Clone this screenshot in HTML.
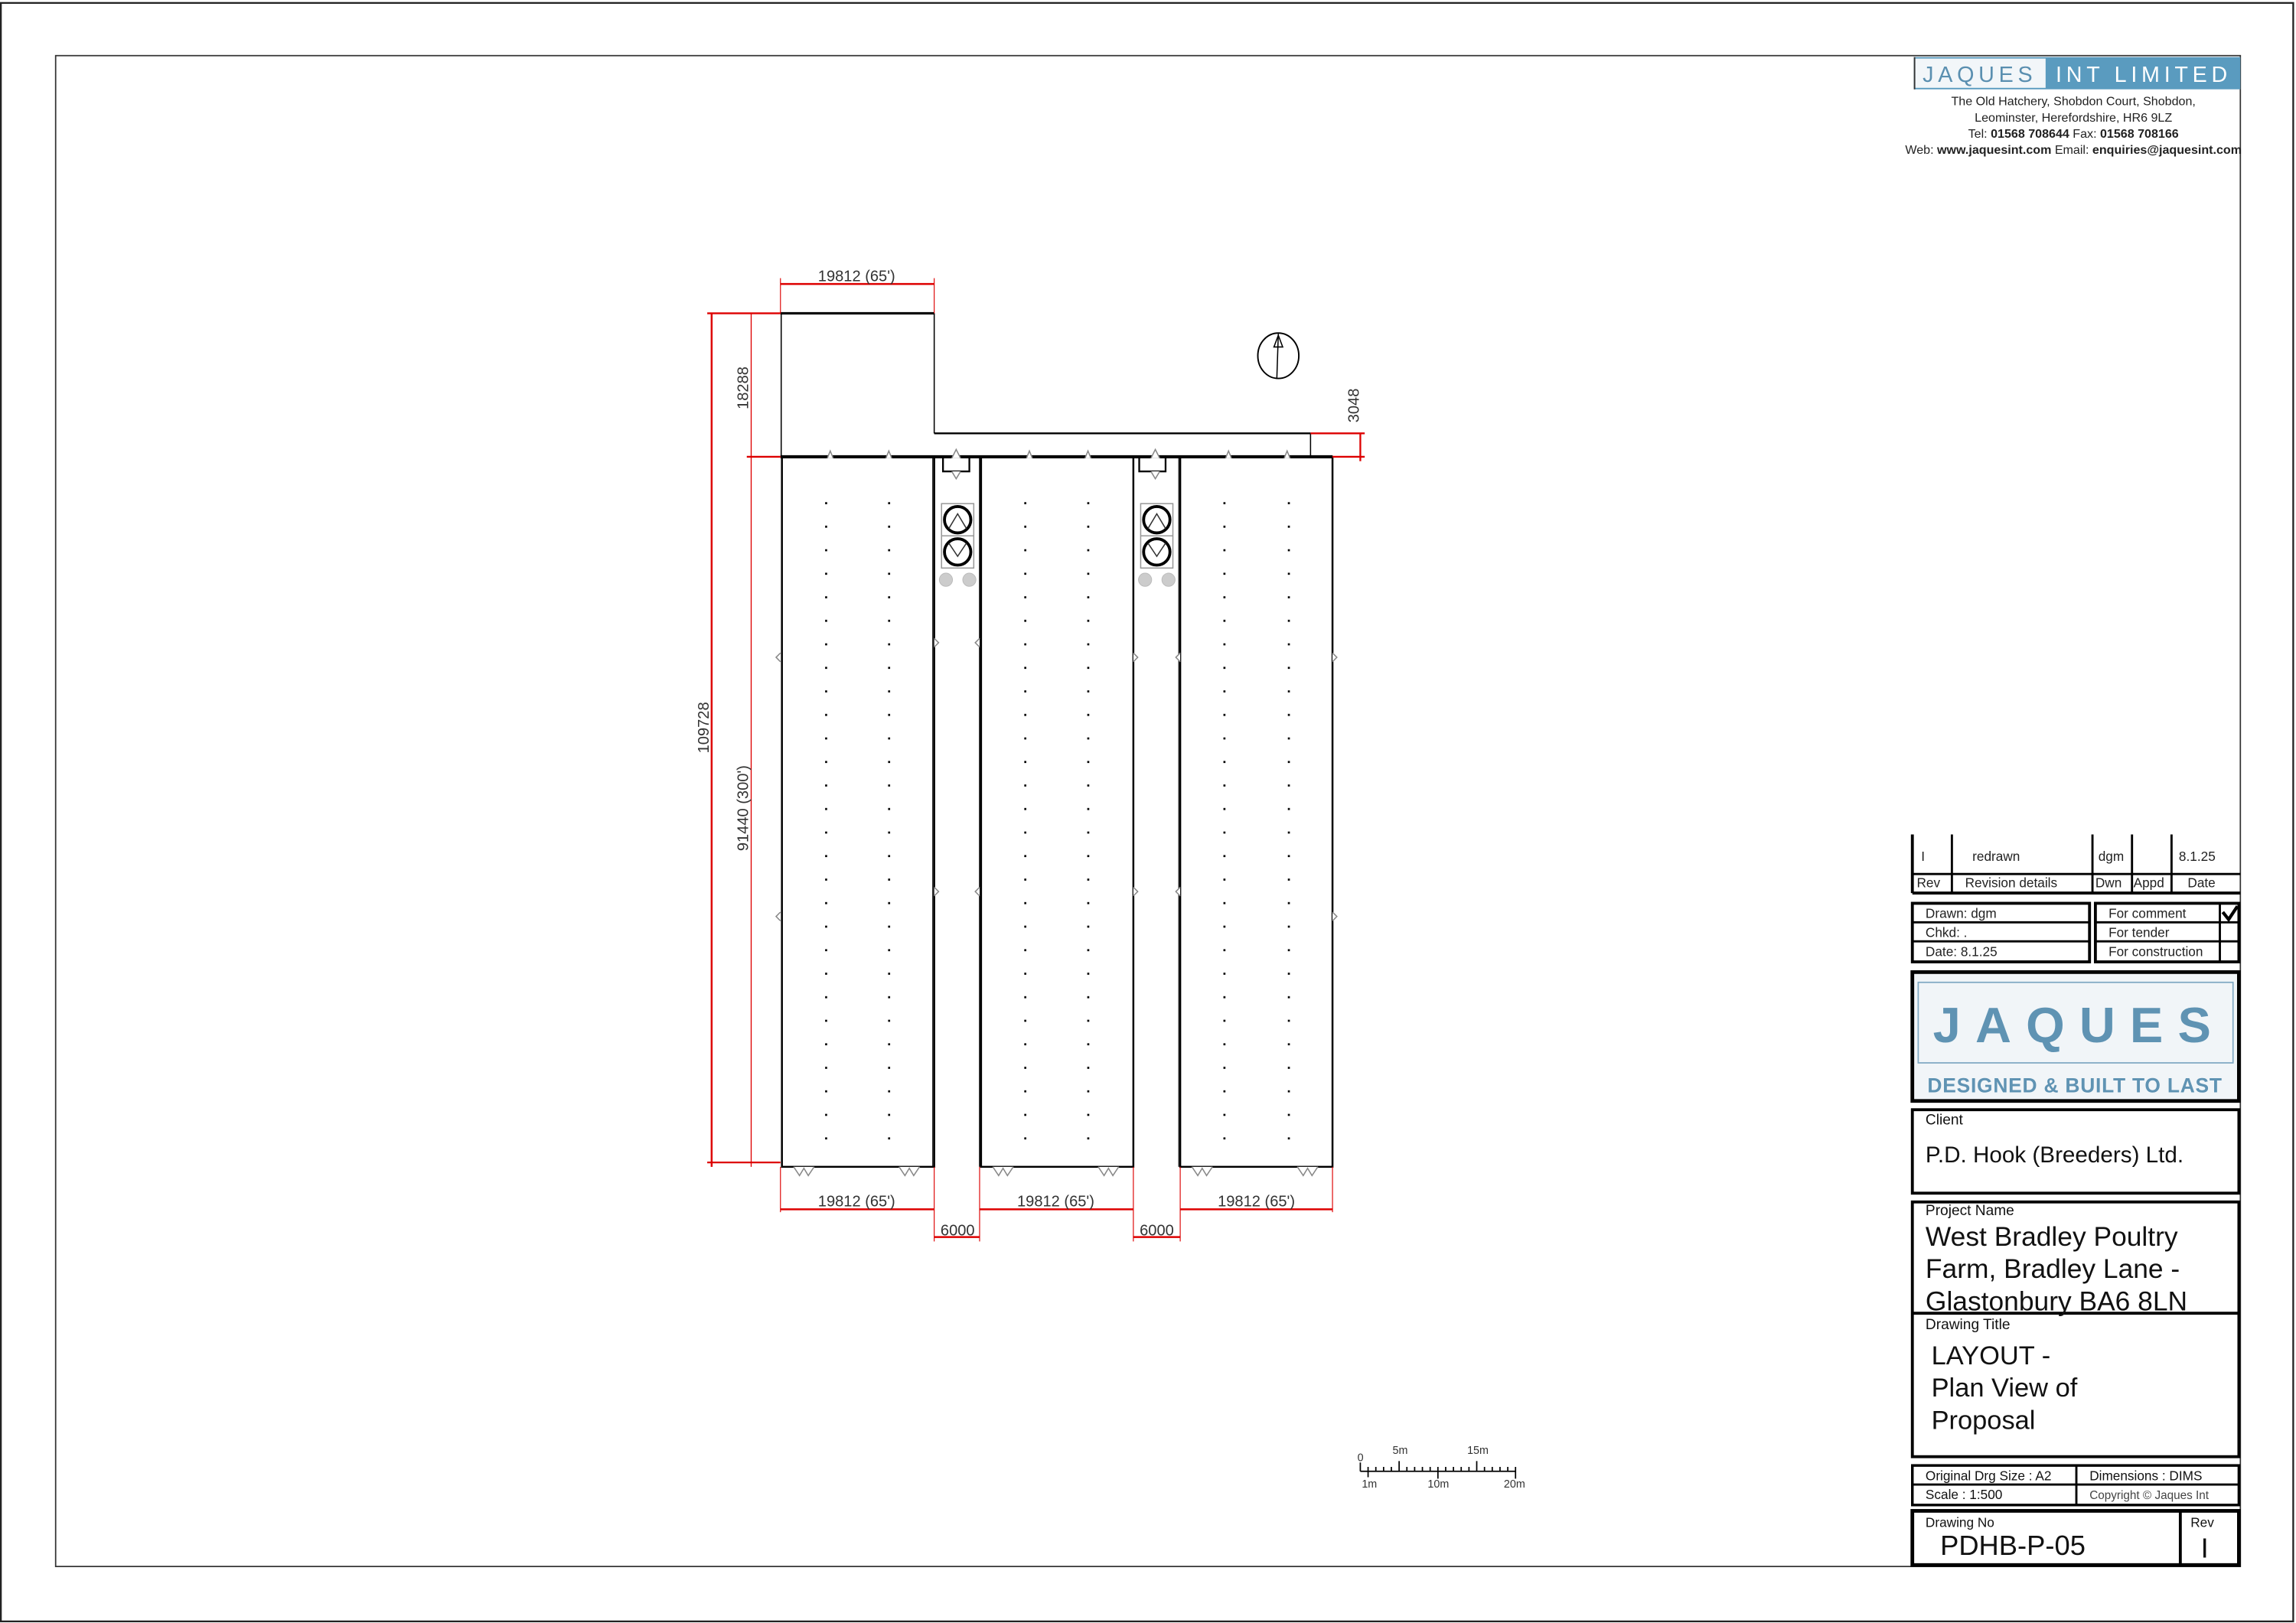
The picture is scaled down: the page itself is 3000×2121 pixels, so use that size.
<!DOCTYPE html>
<html><head><meta charset="utf-8"><style>
html,body{margin:0;padding:0;background:#fff;}
svg{display:block;}
text{font-family:"Liberation Sans",sans-serif;}
</style></head><body>
<svg width="3000" height="2121" viewBox="0 0 1568 1108.6" preserveAspectRatio="none" xmlns="http://www.w3.org/2000/svg">
<defs>
<pattern id="dots" x="0" y="340" width="1568" height="16.07" patternUnits="userSpaceOnUse">
<rect x="563.5" y="3" width="1.4" height="1.4" fill="#000"/>
<rect x="606.5" y="3" width="1.4" height="1.4" fill="#000"/>
<rect x="699.5" y="3" width="1.4" height="1.4" fill="#000"/>
<rect x="742.5" y="3" width="1.4" height="1.4" fill="#000"/>
<rect x="835.5" y="3" width="1.4" height="1.4" fill="#000"/>
<rect x="879.5" y="3" width="1.4" height="1.4" fill="#000"/>
</pattern>
</defs>
<rect x="0.6" y="2" width="1565.5" height="1105.5" fill="none" stroke="#222" stroke-width="1.2"/>
<rect x="38" y="38" width="1492" height="1032" fill="none" stroke="#333" stroke-width="0.9"/>

<rect x="1307" y="39" width="223" height="22" fill="#5a9bbf"/>
<rect x="1308" y="40" width="89" height="20" fill="#f2f6f9"/>
<line x1="1307.5" y1="39" x2="1307.5" y2="61" stroke="#333" stroke-width="1"/>
<text x="1352" y="56" font-size="15" fill="#5a8fb0" text-anchor="middle" letter-spacing="3">JAQUES</text>
<text x="1464" y="56" font-size="15" fill="#fff" text-anchor="middle" letter-spacing="3">INT LIMITED</text>
<g font-size="8.4" fill="#222" text-anchor="middle">
<text x="1416" y="72">The Old Hatchery, Shobdon Court, Shobdon,</text>
<text x="1416" y="83">Leominster, Herefordshire, HR6 9LZ</text>
<text x="1416" y="94">Tel: <tspan font-weight="bold">01568 708644</tspan> Fax: <tspan font-weight="bold">01568 708166</tspan></text>
<text x="1416" y="105">Web: <tspan font-weight="bold">www.jaquesint.com</tspan> Email: <tspan font-weight="bold">enquiries@jaquesint.com</tspan></text>
</g>

<g stroke="#000" fill="none">
<line x1="1306" y1="570" x2="1306" y2="610" stroke-width="2"/>
<line x1="1333" y1="570" x2="1333" y2="610" stroke-width="1.5"/>
<line x1="1429" y1="570" x2="1429" y2="610" stroke-width="1.5"/>
<line x1="1456" y1="570" x2="1456" y2="610" stroke-width="1.5"/>
<line x1="1483" y1="570" x2="1483" y2="610" stroke-width="1.5"/>
<line x1="1306" y1="597" x2="1530" y2="597" stroke-width="1.5"/>
<line x1="1306" y1="610" x2="1530" y2="610" stroke-width="2"/>
<rect x="1306" y="617" width="121" height="40" stroke-width="2"/>
<line x1="1306" y1="630" x2="1427" y2="630" stroke-width="1.5"/>
<line x1="1306" y1="643" x2="1427" y2="643" stroke-width="1.5"/>
<rect x="1431" y="617" width="98" height="40" stroke-width="2"/>
<line x1="1431" y1="630" x2="1529" y2="630" stroke-width="1.5"/>
<line x1="1431" y1="643" x2="1529" y2="643" stroke-width="1.5"/>
<line x1="1516" y1="617" x2="1516" y2="657" stroke-width="1.5"/>
<rect x="1306" y="664" width="223" height="88" stroke-width="2.5" fill="#f1f5f8"/>
<rect x="1310" y="671" width="215" height="55" stroke="#7fa8c2" stroke-width="0.9"/>
<rect x="1306" y="758" width="223" height="57" stroke-width="2"/>
<rect x="1306" y="821" width="223" height="174" stroke-width="2"/>
<line x1="1306" y1="897" x2="1529" y2="897" stroke-width="2"/>
<rect x="1306" y="1001" width="223" height="27" stroke-width="1.8"/>
<line x1="1306" y1="1014" x2="1529" y2="1014" stroke-width="1.5"/>
<line x1="1418" y1="1001" x2="1418" y2="1028" stroke-width="1.5"/>
<rect x="1306" y="1032" width="223" height="37" stroke-width="2.5"/>
<line x1="1489" y1="1032" x2="1489" y2="1069" stroke-width="2"/>
</g>
<path d="M1518 623 l4 5 l6 -9" stroke="#000" stroke-width="2.2" fill="none"/>
<g font-size="9" fill="#222">
<text x="1312" y="588">I</text>
<text x="1347" y="588">redrawn</text>
<text x="1433" y="588">dgm</text>
<text x="1488" y="588">8.1.25</text>
<text x="1309" y="606">Rev</text>
<text x="1342" y="606">Revision details</text>
<text x="1431" y="606">Dwn</text>
<text x="1457" y="606">Appd</text>
<text x="1494" y="606">Date</text>
<text x="1315" y="627">Drawn:  dgm</text>
<text x="1315" y="640">Chkd:    .</text>
<text x="1315" y="653">Date:    8.1.25</text>
<text x="1440" y="627">For comment</text>
<text x="1440" y="640">For tender</text>
<text x="1440" y="653">For construction</text>
</g>
<text x="1420" y="712" font-size="34" fill="#5f93b3" text-anchor="middle" letter-spacing="10" font-weight="bold">JAQUES</text>
<text x="1417" y="746" font-size="13.8" fill="#5f93b3" text-anchor="middle" font-weight="bold" letter-spacing="0.4">DESIGNED &amp; BUILT TO LAST</text>
<g fill="#111">
<text x="1315" y="768" font-size="10">Client</text>
<text x="1315" y="794" font-size="15.5">P.D. Hook (Breeders)  Ltd.</text>
<text x="1315" y="830" font-size="10">Project Name</text>
<text x="1315" y="851" font-size="18.5">West Bradley Poultry</text>
<text x="1315" y="873" font-size="18.5">Farm, Bradley Lane -</text>
<text x="1315" y="895" font-size="18.5">Glastonbury BA6 8LN</text>
<text x="1315" y="908" font-size="10">Drawing Title</text>
<text x="1319" y="932" font-size="18">LAYOUT -</text>
<text x="1319" y="954" font-size="18">Plan View of</text>
<text x="1319" y="976" font-size="18">Proposal</text>
<text x="1315" y="1011" font-size="9">Original Drg Size :   A2</text>
<text x="1427" y="1011" font-size="9">Dimensions :    DIMS</text>
<text x="1315" y="1024" font-size="9">Scale :     1:500</text>
<text x="1427" y="1024" font-size="8" fill="#444">Copyright © Jaques Int</text>
<text x="1315" y="1043" font-size="9">Drawing No</text>
<text x="1325" y="1062" font-size="19">PDHB-P-05</text>
<text x="1496" y="1043" font-size="9">Rev</text>
<text x="1503" y="1064" font-size="19">I</text>
</g>

<g stroke="#000" fill="none">
<line x1="533" y1="214" x2="638" y2="214" stroke-width="1.6"/>
<line x1="533.5" y1="214" x2="533.5" y2="312" stroke-width="0.8"/>
<line x1="638" y1="214" x2="638" y2="296" stroke-width="0.8"/>
<line x1="638" y1="296" x2="895" y2="296" stroke-width="1.3"/>
<line x1="895" y1="296" x2="895" y2="312" stroke-width="0.8"/>
<line x1="533" y1="312" x2="910" y2="312" stroke-width="2.2"/>
<rect x="534" y="312" width="104" height="485" stroke-width="1.3"/>
<rect x="670" y="312" width="104" height="485" stroke-width="1.3"/>
<rect x="806" y="312" width="104" height="485" stroke-width="1.3"/>
<line x1="669" y1="312" x2="669" y2="797" stroke-width="0.8"/>
<line x1="774" y1="312" x2="774" y2="797" stroke-width="0.8"/>
<line x1="637" y1="312" x2="637" y2="797" stroke-width="0.6"/>
<line x1="805" y1="312" x2="805" y2="797" stroke-width="0.6"/>
<path d="M644 312 v10 h18 v-10 M778 312 v10 h18 v-10" stroke-width="1.2"/>
</g>
<g stroke="#888" fill="#fff" stroke-width="0.8">
<path d="M565 313 l2 -5 l2 5 M605 313 l2 -5 l2 5 M701 313 l2 -5 l2 5 M741 313 l2 -5 l2 5 M837 313 l2 -5 l2 5 M877 313 l2 -5 l2 5"/>
<path d="M650 313 l3 -6 l3 6 M786 313 l3 -6 l3 6 M650 322 l3 5 l3 -5 M786 322 l3 5 l3 -5"/>
<path d="M542 797 l4 6 l3 -5 l3 5 l4 -6 M614 797 l4 6 l3 -5 l3 5 l4 -6 M678 797 l4 6 l3 -5 l3 5 l4 -6 M750 797 l4 6 l3 -5 l3 5 l4 -6 M814 797 l4 6 l3 -5 l3 5 l4 -6 M886 797 l4 6 l3 -5 l3 5 l4 -6"/>
<path d="M533 446 l-3 3 l3 3 M533 623 l-3 3 l3 3 M910 446 l3 3 l-3 3 M910 623 l3 3 l-3 3 M638 436 l3 3 l-3 3 M669 436 l-3 3 l3 3 M774 446 l3 3 l-3 3 M806 446 l-3 3 l3 3 M638 606 l3 3 l-3 3 M669 606 l-3 3 l3 3 M774 606 l3 3 l-3 3 M806 606 l-3 3 l3 3"/>
</g>
<rect x="540" y="340" width="365" height="450" fill="url(#dots)"/>

<g>
<rect x="643" y="344" width="22" height="44" fill="none" stroke="#999" stroke-width="0.8"/>
<line x1="643" y1="366" x2="665" y2="366" stroke="#999" stroke-width="0.8"/>
<circle cx="654" cy="355" r="9" fill="none" stroke="#000" stroke-width="2"/>
<circle cx="654" cy="377" r="9" fill="none" stroke="#000" stroke-width="2"/>
<path d="M648 361 l6 -10 l6 10 M648 371 l6 9 l6 -9" stroke="#333" stroke-width="0.8" fill="none"/>
<circle cx="646" cy="396" r="4.5" fill="#ccc" stroke="#bbb" stroke-width="0.5"/>
<circle cx="662" cy="396" r="4.5" fill="#ccc" stroke="#bbb" stroke-width="0.5"/>
<rect x="779" y="344" width="22" height="44" fill="none" stroke="#999" stroke-width="0.8"/>
<line x1="779" y1="366" x2="801" y2="366" stroke="#999" stroke-width="0.8"/>
<circle cx="790" cy="355" r="9" fill="none" stroke="#000" stroke-width="2"/>
<circle cx="790" cy="377" r="9" fill="none" stroke="#000" stroke-width="2"/>
<path d="M784 361 l6 -10 l6 10 M784 371 l6 9 l6 -9" stroke="#333" stroke-width="0.8" fill="none"/>
<circle cx="782" cy="396" r="4.5" fill="#ccc" stroke="#bbb" stroke-width="0.5"/>
<circle cx="798" cy="396" r="4.5" fill="#ccc" stroke="#bbb" stroke-width="0.5"/>
</g>

<ellipse cx="873" cy="243" rx="14" ry="15.5" fill="none" stroke="#000" stroke-width="1"/>
<line x1="873" y1="228" x2="872" y2="258" stroke="#000" stroke-width="0.8"/>
<path d="M873 229 l-3 8 h6 z" fill="none" stroke="#000" stroke-width="0.8"/>

<g stroke="#d00" fill="none">
<line x1="533" y1="194" x2="638" y2="194" stroke-width="1.3"/>
<line x1="533" y1="190" x2="533" y2="214" stroke-width="0.6"/>
<line x1="638" y1="190" x2="638" y2="214" stroke-width="0.6"/>
<line x1="486" y1="214" x2="486" y2="797" stroke-width="1.3"/>
<line x1="513" y1="214" x2="513" y2="797" stroke-width="0.7"/>
<line x1="483" y1="214" x2="533" y2="214" stroke-width="1.2"/>
<line x1="510" y1="312" x2="533" y2="312" stroke-width="1.2"/>
<line x1="483" y1="794" x2="533" y2="794" stroke-width="1.2"/>
<line x1="929" y1="296" x2="929" y2="315" stroke-width="1.2"/>
<line x1="895" y1="296" x2="932" y2="296" stroke-width="1.2"/>
<line x1="910" y1="312" x2="932" y2="312" stroke-width="1.2"/>
<line x1="533" y1="826" x2="638" y2="826" stroke-width="1.3"/>
<line x1="669" y1="826" x2="774" y2="826" stroke-width="1.3"/>
<line x1="806" y1="826" x2="910" y2="826" stroke-width="1.3"/>
<line x1="638" y1="845" x2="669" y2="845" stroke-width="1.3"/>
<line x1="774" y1="845" x2="806" y2="845" stroke-width="1.3"/>
<path d="M533 797 V828 M638 797 V848 M669 797 V848 M774 797 V848 M806 797 V848 M910 797 V828" stroke-width="0.6"/>
</g>
<g font-size="10.5" fill="#333" text-anchor="middle">
<text x="585" y="192">19812 (65')</text>
<text x="585" y="824">19812 (65')</text>
<text x="721" y="824">19812 (65')</text>
<text x="858" y="824">19812 (65')</text>
<text x="654" y="844">6000</text>
<text x="790" y="844">6000</text>
<text transform="translate(484,497) rotate(-90)">109728</text>
<text transform="translate(511,265) rotate(-90)">18288</text>
<text transform="translate(511,552) rotate(-90)">91440  (300')</text>
<text transform="translate(928,277) rotate(-90)">3048</text>
</g>

<g stroke="#000" stroke-width="0.9" fill="none">
<line x1="929" y1="1005" x2="1035" y2="1005"/>
<path d="M929 999 V1005 M934.3 1002 V1009 M939.6 1002V1005 M944.9 1002V1005 M950.2 1002V1005 M955.5 998V1005 M960.8 1002V1005 M966.1 1002V1005 M971.4 1002V1005 M976.7 1002V1005 M982 1002V1010 M987.3 1002V1005 M992.6 1002V1005 M997.9 1002V1005 M1003.2 1002V1005 M1008.5 998V1005 M1013.8 1002V1005 M1019.1 1002V1005 M1024.4 1002V1005 M1029.7 1002V1005 M1035 1002V1010"/>
</g>
<g font-size="7.5" fill="#333">
<text x="927" y="998">0</text>
<text x="951" y="993">5m</text>
<text x="1002" y="993">15m</text>
<text x="930" y="1016">1m</text>
<text x="975" y="1016">10m</text>
<text x="1027" y="1016">20m</text>
</g>
</svg>
</body></html>
